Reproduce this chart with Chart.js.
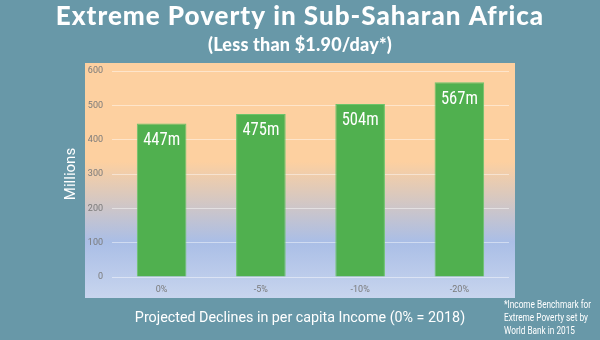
<!DOCTYPE html>
<html>
<head>
<meta charset="utf-8">
<script src="https://cdn.jsdelivr.net/npm/chart.js@4/dist/chart.umd.min.js"></script>
<style>
  html, body { margin: 0; padding: 0; background: #6898a8; }
  #wrap { width: 600px; height: 340px; }
</style>
</head>
<body>
<div id="wrap"><canvas id="barChart" width="600" height="340"></canvas></div>
<script>
'use strict';
// data
const categories = ['0%', '-5%', '-10%', '-20%'];
const poverty = [447, 475, 504, 567];
const yTicks = [0, 100, 200, 300, 400, 500, 600];
const titleText = 'Extreme Poverty in Sub-Saharan Africa';
const subtitleText = '(Less than $1.90/day*)';
const xTitle = 'Projected Declines in per capita Income (0% = 2018)';
const footnote = ['*Income Benchmark for', 'Extreme Poverty set by', 'World Bank in 2015'];
const footnoteWidths = [87, 84, 71];

// panel behind the plot, titles, bar labels, footnote
const decor = {
    id: 'decor',
    beforeDraw(chart) {
        const { ctx, chartArea: a } = chart;
        const left = a.left - 27, right = a.right + 6;
        const top = a.top - 8, bottom = a.bottom + 21;
        const g = ctx.createLinearGradient(0, top, 0, bottom);
        g.addColorStop(0, '#fdd0a0');
        g.addColorStop(0.42, '#fdd0a0');
        g.addColorStop(0.76, '#aabee6');
        g.addColorStop(1, '#c8d5ee');
        ctx.save();
        ctx.fillStyle = g;
        ctx.fillRect(left, top, right - left, bottom - top);

        ctx.fillStyle = '#ffffff';
        ctx.textAlign = 'center';
        ctx.textBaseline = 'alphabetic';
        ctx.letterSpacing = '1px';
        ctx.font = '900 26px Lato';
        ctx.fillText(titleText, 300, 25, 492);
        ctx.letterSpacing = '0.2px';
        ctx.font = '900 18px Lato';
        ctx.fillText(subtitleText, 300, 51, 188);
        ctx.letterSpacing = '0px';
        ctx.textBaseline = 'middle';
        ctx.font = '14.3px Roboto';
        ctx.fillText(xTitle, 300, 318);
        ctx.restore();
    },
    afterDatasetsDraw(chart) {
        const { ctx } = chart;
        const meta = chart.getDatasetMeta(0);
        ctx.save();
        ctx.fillStyle = '#ffffff';
        ctx.font = '18px "Roboto Condensed", Roboto';
        ctx.textAlign = 'center';
        ctx.textBaseline = 'middle';
        meta.data.forEach((bar, i) => {
            ctx.fillText(poverty[i] + 'm', bar.x, bar.y + 17, 37);
        });
        ctx.font = '11px Roboto';
        ctx.textAlign = 'left';
        footnote.forEach((line, i) => {
            ctx.fillText(line, 504, 305 + i * 13, footnoteWidths[i]);
        });
        ctx.restore();
    }
};

function renderChart() {
    const ctx = document.getElementById('barChart').getContext('2d');
    new Chart(ctx, {
        type: 'bar',
        data: {
            labels: categories,
            datasets: [{
                label: 'Millions',
                data: poverty,
                backgroundColor: '#50b04f',
                borderColor: '#6cc46a',
                borderWidth: 1,
                barPercentage: 0.5,
                categoryPercentage: 1
            }]
        },
        options: {
            responsive: false,
            animation: false,
            layout: { padding: { left: 62, right: 91, top: 71, bottom: 0 } },
            plugins: {
                legend: { display: false },
                tooltip: { enabled: false }
            },
            scales: {
                x: {
                    grid: { display: false, drawTicks: false },
                    border: { display: false },
                    ticks: { color: '#7a7a7a', font: { family: 'Roboto', size: 9 }, padding: 7 },
                    afterFit(scale) {
                        scale.height = 63;
                    }
                },
                y: {
                    min: 0,
                    max: 600,
                    afterBuildTicks(scale) {
                        scale.ticks = yTicks.map(v => ({ value: v }));
                    },
                    afterFit(scale) {
                        scale.width = 50;
                    },
                    grid: { color: 'rgba(255,255,255,0.45)', drawTicks: false },
                    border: { display: false },
                    ticks: { color: '#7a7a7a', font: { family: 'Roboto', size: 9 }, padding: 9 },
                    title: {
                        display: true,
                        text: 'Millions',
                        color: '#ffffff',
                        font: { family: 'Roboto', size: 15 },
                        padding: { top: 0, bottom: 0 }
                    }
                }
            }
        },
        plugins: [decor]
    });
}

renderChart();
</script>
</body>
</html>
